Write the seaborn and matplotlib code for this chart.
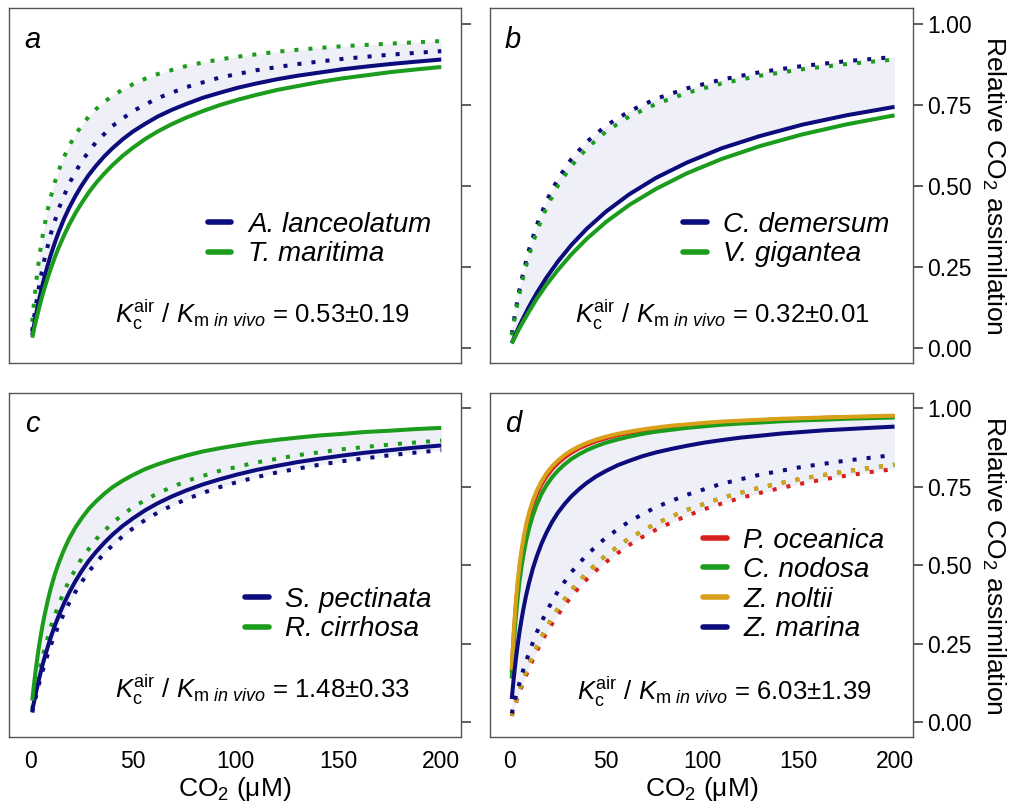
import numpy as np
import pandas as pd
import seaborn as sns
import matplotlib.pyplot as plt
from matplotlib.lines import Line2D

sns.set_theme(style="white")
plt.rcParams['font.family'] = ['Liberation Sans', 'DejaVu Sans']
plt.rcParams['mathtext.fontset'] = 'custom'
plt.rcParams['mathtext.rm'] = 'Liberation Sans'
plt.rcParams['mathtext.it'] = 'Liberation Sans:italic'
plt.rcParams['mathtext.bf'] = 'Liberation Sans:bold'
plt.rcParams['text.color'] = 'black'
plt.rcParams['axes.labelcolor'] = 'black'

NAVY = '#0c0c7c'; GREEN = '#1c9c1c'; RED = '#d8201c'; GOLD = '#d9a01a'; SHADE = '#efeff8'

co2 = [1, 2, 3, 5, 7, 10, 14, 19, 25, 32, 40, 50, 62, 76, 92, 110, 130, 152, 175, 200]
co2_fine = [1, 1.5, 2, 3, 4, 5, 6, 7, 8.5, 10, 12, 14, 16.5, 19, 22, 25, 28.5, 32, 36, 40,
            45, 50, 56, 62, 69, 76, 84, 92, 101, 110, 120, 130, 141, 152, 163, 175, 187, 200]

# ---- panel a ----
a_species = ['A. lanceolatum', 'T. maritima']
a_vivo_lanceolatum = [0.038, 0.057, 0.074, 0.107, 0.138, 0.167, 0.194, 0.219, 0.254, 0.286,
                      0.324, 0.359, 0.398, 0.432, 0.468, 0.500, 0.533, 0.561, 0.590, 0.615,
                      0.643, 0.667, 0.691, 0.713, 0.734, 0.752, 0.771, 0.786, 0.802, 0.815,
                      0.828, 0.839, 0.849, 0.859, 0.867, 0.875, 0.882, 0.889]
a_vivo_maritima = [0.031, 0.046, 0.061, 0.088, 0.114, 0.139, 0.162, 0.184, 0.215, 0.244,
                   0.279, 0.311, 0.347, 0.380, 0.415, 0.446, 0.479, 0.508, 0.537, 0.563,
                   0.592, 0.617, 0.644, 0.667, 0.690, 0.710, 0.730, 0.748, 0.765, 0.780,
                   0.795, 0.807, 0.820, 0.831, 0.840, 0.850, 0.858, 0.866]
a_air_lanceolatum = [0.051, 0.098, 0.140, 0.213, 0.275, 0.351, 0.431, 0.507, 0.575, 0.634,
                     0.684, 0.730, 0.770, 0.804, 0.833, 0.856, 0.875, 0.891, 0.904, 0.915]
a_air_maritima = [0.080, 0.115, 0.148, 0.207, 0.258, 0.303, 0.343, 0.378, 0.425, 0.465,
                  0.511, 0.549, 0.589, 0.623, 0.657, 0.685, 0.713, 0.736, 0.758, 0.777,
                  0.796, 0.813, 0.830, 0.844, 0.857, 0.869, 0.880, 0.889, 0.898, 0.905,
                  0.913, 0.919, 0.925, 0.930, 0.934, 0.938, 0.942, 0.946]
a_ratio = ['0.53', '0.19']

# ---- panel b ----
b_species = ['C. demersum', 'V. gigantea']
b_vivo_demersum = [0.014, 0.028, 0.042, 0.068, 0.092, 0.127, 0.169, 0.216, 0.266, 0.317,
                   0.367, 0.420, 0.473, 0.524, 0.571, 0.615, 0.653, 0.688, 0.717, 0.743]
b_vivo_gigantea = [0.013, 0.025, 0.037, 0.060, 0.081, 0.112, 0.151, 0.194, 0.240, 0.288,
                   0.336, 0.388, 0.440, 0.490, 0.538, 0.582, 0.622, 0.658, 0.689, 0.717]
b_air_demersum = [0.042, 0.080, 0.115, 0.179, 0.233, 0.303, 0.378, 0.452, 0.521, 0.582,
                  0.635, 0.685, 0.729, 0.768, 0.800, 0.827, 0.850, 0.869, 0.884, 0.897]
b_air_gigantea = [0.038, 0.074, 0.107, 0.167, 0.219, 0.286, 0.359, 0.432, 0.500, 0.561,
                  0.615, 0.667, 0.713, 0.752, 0.786, 0.815, 0.839, 0.859, 0.875, 0.889]
b_ratio = ['0.32', '0.01']

# ---- panel c ----
c_species = ['S. pectinata', 'R. cirrhosa']
c_vivo_pectinata = [0.036, 0.053, 0.069, 0.100, 0.129, 0.156, 0.182, 0.206, 0.239, 0.270,
                    0.308, 0.341, 0.379, 0.413, 0.449, 0.481, 0.514, 0.542, 0.571, 0.597,
                    0.625, 0.649, 0.675, 0.697, 0.719, 0.738, 0.757, 0.773, 0.789, 0.803,
                    0.816, 0.828, 0.839, 0.849, 0.858, 0.866, 0.874, 0.881]
c_vivo_cirrhosa = [0.069, 0.100, 0.129, 0.182, 0.229, 0.270, 0.308, 0.341, 0.386, 0.426,
                   0.471, 0.509, 0.550, 0.585, 0.620, 0.649, 0.679, 0.703, 0.727, 0.748,
                   0.769, 0.787, 0.806, 0.821, 0.836, 0.849, 0.862, 0.872, 0.882, 0.891,
                   0.899, 0.906, 0.913, 0.918, 0.924, 0.928, 0.933, 0.937]
c_air_pectinata = [0.031, 0.046, 0.061, 0.088, 0.114, 0.139, 0.162, 0.184, 0.215, 0.244,
                   0.279, 0.311, 0.347, 0.380, 0.415, 0.446, 0.479, 0.508, 0.537, 0.563,
                   0.592, 0.617, 0.644, 0.667, 0.690, 0.710, 0.730, 0.748, 0.765, 0.780,
                   0.795, 0.807, 0.820, 0.831, 0.840, 0.850, 0.858, 0.866]
c_air_cirrhosa = [0.042, 0.080, 0.115, 0.179, 0.233, 0.303, 0.378, 0.452, 0.521, 0.582,
                  0.635, 0.685, 0.729, 0.768, 0.800, 0.827, 0.850, 0.869, 0.884, 0.897]
c_ratio = ['1.48', '0.33']

# ---- panel d ----
d_species = ['P. oceanica', 'C. nodosa', 'Z. noltii', 'Z. marina']
d_vivo_oceanica = [0.159, 0.221, 0.274, 0.361, 0.430, 0.485, 0.531, 0.569, 0.616, 0.654,
                   0.694, 0.725, 0.757, 0.782, 0.806, 0.825, 0.843, 0.858, 0.872, 0.883,
                   0.895, 0.904, 0.914, 0.921, 0.929, 0.935, 0.941, 0.946, 0.950, 0.954,
                   0.958, 0.961, 0.964, 0.966, 0.969, 0.971, 0.972, 0.974]
d_vivo_nodosa = [0.139, 0.195, 0.244, 0.326, 0.392, 0.446, 0.492, 0.530, 0.578, 0.617,
                 0.659, 0.693, 0.727, 0.754, 0.780, 0.801, 0.821, 0.838, 0.853, 0.866,
                 0.879, 0.890, 0.900, 0.909, 0.918, 0.925, 0.931, 0.937, 0.942, 0.947,
                 0.951, 0.954, 0.958, 0.961, 0.963, 0.966, 0.968, 0.970]
d_vivo_noltii = [0.167, 0.231, 0.286, 0.375, 0.444, 0.500, 0.545, 0.583, 0.630, 0.667,
                 0.706, 0.737, 0.767, 0.792, 0.815, 0.833, 0.851, 0.865, 0.878, 0.889,
                 0.900, 0.909, 0.918, 0.925, 0.932, 0.938, 0.944, 0.948, 0.953, 0.957,
                 0.960, 0.963, 0.966, 0.968, 0.970, 0.972, 0.974, 0.976]
d_vivo_marina = [0.074, 0.107, 0.138, 0.194, 0.242, 0.286, 0.324, 0.359, 0.405, 0.444,
                 0.490, 0.528, 0.569, 0.603, 0.638, 0.667, 0.695, 0.719, 0.742, 0.762,
                 0.783, 0.800, 0.818, 0.832, 0.847, 0.859, 0.870, 0.880, 0.890, 0.898,
                 0.906, 0.912, 0.919, 0.924, 0.929, 0.933, 0.937, 0.941]
d_air_oceanica = [0.020, 0.030, 0.040, 0.059, 0.077, 0.094, 0.111, 0.127, 0.150, 0.172,
                  0.200, 0.226, 0.256, 0.284, 0.314, 0.342, 0.373, 0.400, 0.429, 0.455,
                  0.484, 0.510, 0.538, 0.564, 0.590, 0.613, 0.636, 0.657, 0.678, 0.696,
                  0.714, 0.730, 0.746, 0.760, 0.773, 0.785, 0.796, 0.806]
d_air_nodosa = [0.022, 0.043, 0.064, 0.102, 0.137, 0.185, 0.241, 0.302, 0.362, 0.421,
                0.476, 0.532, 0.585, 0.633, 0.676, 0.714, 0.747, 0.776, 0.799, 0.820]
d_air_noltii = [0.022, 0.043, 0.064, 0.102, 0.137, 0.185, 0.241, 0.302, 0.362, 0.421,
                0.476, 0.532, 0.585, 0.633, 0.676, 0.714, 0.747, 0.776, 0.799, 0.820]
d_air_marina = [0.028, 0.054, 0.079, 0.125, 0.167, 0.222, 0.286, 0.352, 0.417, 0.478,
                0.533, 0.588, 0.639, 0.685, 0.724, 0.759, 0.788, 0.813, 0.833, 0.851]
d_ratio = ['6.03', '1.39']

F, C = co2_fine, co2
panels = {
    'a': dict(species=a_species, colors=[NAVY, GREEN],
              vivo=[(F, a_vivo_lanceolatum), (F, a_vivo_maritima)],
              air=[(C, a_air_lanceolatum), (F, a_air_maritima)],
              band=(F, a_air_maritima, a_vivo_lanceolatum), ratio=a_ratio),
    'b': dict(species=b_species, colors=[NAVY, GREEN],
              vivo=[(C, b_vivo_demersum), (C, b_vivo_gigantea)],
              air=[(C, b_air_demersum), (C, b_air_gigantea)],
              band=(C, b_air_demersum, b_vivo_demersum), ratio=b_ratio),
    'c': dict(species=c_species, colors=[NAVY, GREEN],
              vivo=[(F, c_vivo_pectinata), (F, c_vivo_cirrhosa)],
              air=[(F, c_air_pectinata), (C, c_air_cirrhosa)],
              band=(F, c_vivo_cirrhosa, c_air_pectinata), ratio=c_ratio),
    'd': dict(species=d_species, colors=[RED, GREEN, GOLD, NAVY],
              vivo=[(F, d_vivo_oceanica), (F, d_vivo_nodosa), (F, d_vivo_noltii),
                    (F, d_vivo_marina)],
              air=[(F, d_air_oceanica), (C, d_air_nodosa), (C, d_air_noltii),
                   (C, d_air_marina)],
              band=(F, d_vivo_noltii, d_air_oceanica), ratio=d_ratio),
}

pos = {'a': [0.0089, 0.5502, 0.4466, 0.4399], 'b': [0.4842, 0.5502, 0.418, 0.4399],
       'c': [0.0089, 0.0867, 0.4466, 0.4263], 'd': [0.4842, 0.0867, 0.418, 0.4263]}
leg_pos = {'a': (0.44, 0.426), 'b': (0.456, 0.426), 'c': (0.522, 0.437), 'd': (0.504, 0.609)}
txt_pos = {'a': (0.887, 0.113), 'b': (0.898, 0.113), 'c': (0.887, 0.113), 'd': (0.903, 0.108)}

fig = plt.figure(figsize=(10.12, 8.07), dpi=100)

for key in 'abcd':
    p = panels[key]
    ax = fig.add_axes(pos[key])
    bx, btop, bbot = p['band']
    ax.fill_between(bx, bbot, btop, color=SHADE, lw=0, zorder=0)
    for (xs, ys), col in zip(p['air'], p['colors']):
        sns.lineplot(x=xs, y=ys, ax=ax, color=col, lw=2.9,
                     linestyle=(0, (1, 2.5)), dash_capstyle='butt')
    for (xs, ys), col in zip(p['vivo'], p['colors']):
        sns.lineplot(x=xs, y=ys, ax=ax, color=col, lw=2.9, solid_capstyle='butt',
                     solid_joinstyle='round')
    ax.set_xlim(-10.3, 209.6)
    ax.set_ylim(-0.047, 1.048)
    ax.set_xticks([0, 50, 100, 150, 200])
    ax.set_yticks([0, 0.25, 0.5, 0.75, 1.0])
    ax.yaxis.tick_right()
    ax.yaxis.set_label_position('right')
    ax.tick_params(axis='both', direction='out', color='#333333', width=1.1, labelsize=16.5,
                   labelcolor='black')
    ax.tick_params(axis='y', length=7, pad=3)
    ax.tick_params(axis='x', length=6, pad=3)
    for s in ax.spines.values():
        s.set_color('#555555'); s.set_linewidth(1.0)
    if key in 'ab':
        ax.set_xticklabels([])
        ax.set_xlabel('')
    else:
        ax.set_xticklabels(['0', '50', '100', '150', '200'])
        ax.set_xlabel('CO$_2$ (μM)', fontsize=19, labelpad=2)
    if key in 'ac':
        ax.set_yticklabels([])
        ax.set_ylabel('')
    else:
        ax.set_yticklabels(['0.00', '0.25', '0.50', '0.75', '1.00'])
        ax.set_ylabel('Relative CO$_2$ assimilation', fontsize=19, rotation=-90, va='bottom',
                      labelpad=6)
    handles = [Line2D([], [], color=c, lw=4) for c in p['colors']]
    ax.legend(handles, p['species'], loc='upper left', bbox_to_anchor=leg_pos[key],
              frameon=False, prop={'style': 'italic', 'size': 20}, handlelength=0.85,
              handletextpad=0.6, labelspacing=0.13, borderpad=0, borderaxespad=0)
    ax.text(0.035, 0.887, key, transform=ax.transAxes, fontsize=21, style='italic',
            ha='left', va='baseline')
    r, e = p['ratio']
    ax.text(txt_pos[key][0], txt_pos[key][1],
            r'$K_{\mathrm{c}}^{\mathrm{air}}$ / $K_{\mathrm{m}\ \mathit{in\ vivo}}$ = '
            + r + r'$\pm$' + e,
            transform=ax.transAxes, fontsize=18.5, ha='right', va='baseline')

fig.savefig('out.png', dpi=100)
